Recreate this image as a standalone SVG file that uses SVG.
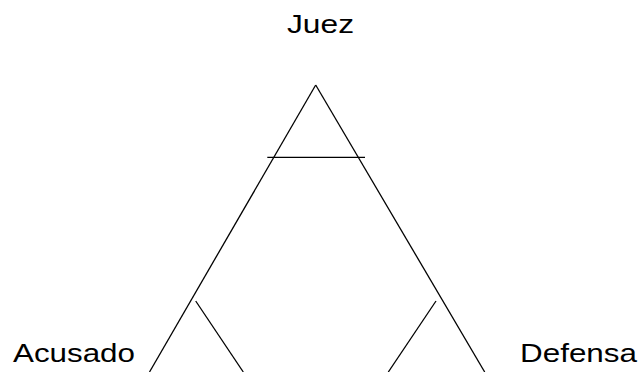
<svg xmlns="http://www.w3.org/2000/svg" width="639" height="372" viewBox="0 0 639 372">
<style>
.lbl{font-family:"Liberation Sans",Arial,sans-serif;font-size:25.5px;fill:#000}
.ln{stroke:#000;stroke-width:1.3;fill:none}
</style>
<rect width="639" height="372" fill="#fff"/>
<g id="connectors">
<line class="ln" x1="315.7" y1="85" x2="149.5" y2="372"/>
<line class="ln" x1="315.7" y1="85" x2="484.7" y2="372"/>
<line class="ln" x1="267.3" y1="157.3" x2="365" y2="157.3"/>
<line class="ln" x1="195.7" y1="301" x2="243.3" y2="372"/>
<line class="ln" x1="436" y1="301" x2="388.3" y2="372"/>
</g>
<g id="juez"><text class="lbl" x="287" y="33.3" textLength="67" lengthAdjust="spacingAndGlyphs">Juez</text></g>
<g id="acusado"><text class="lbl" x="13" y="361.7" textLength="122" lengthAdjust="spacingAndGlyphs">Acusado</text></g>
<g id="defensa"><text class="lbl" x="520" y="361.7" textLength="117" lengthAdjust="spacingAndGlyphs">Defensa</text></g>
</svg>
